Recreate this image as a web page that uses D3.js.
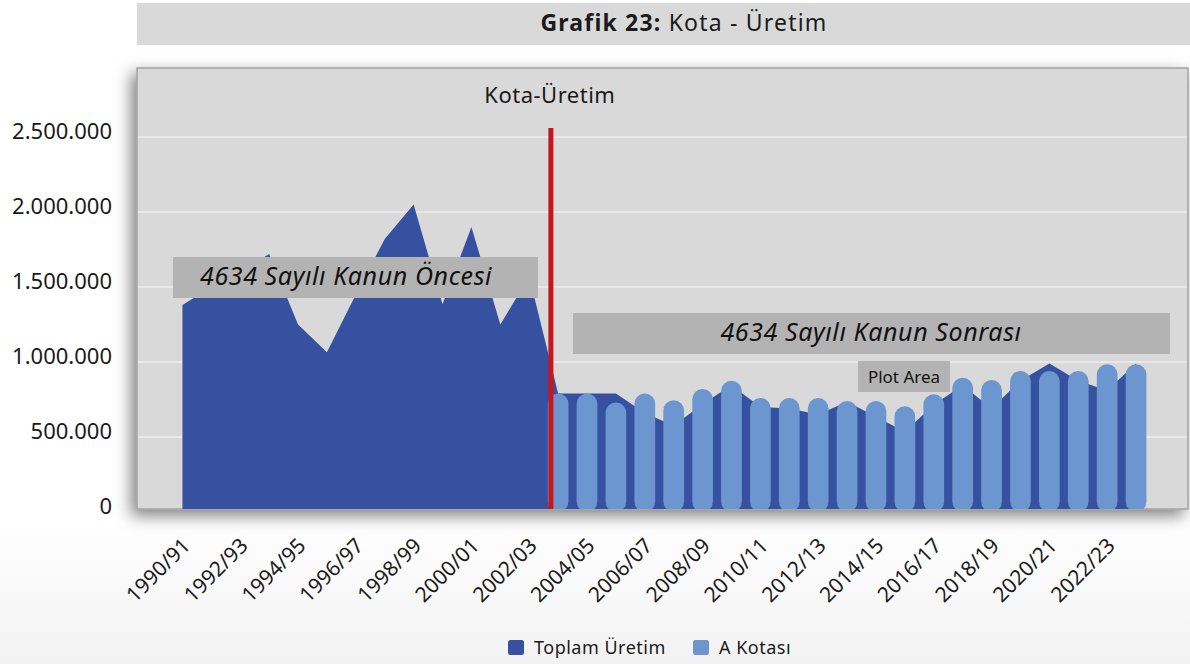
<!DOCTYPE html>
<html>
<head>
<meta charset="utf-8">
<script src="https://cdn.jsdelivr.net/npm/d3@7"></script>
<style>
body { margin: 0; background: #fff; }
svg { display: block; font-family: "Noto Sans", sans-serif; }
</style>
</head>
<body>
<svg id="chart" width="1190" height="664"></svg>
<script>
// categories (marketing years)
var years = ["1990/91", "1991/92", "1992/93", "1993/94", "1994/95", "1995/96", "1996/97", "1997/98",
    "1998/99", "1999/00", "2000/01", "2001/02", "2002/03", "2003/04", "2004/05", "2005/06",
    "2006/07", "2007/08", "2008/09", "2009/10", "2010/11", "2011/12", "2012/13", "2013/14",
    "2014/15", "2015/16", "2016/17", "2017/18", "2018/19", "2019/20", "2020/21", "2021/22",
    "2022/23", "2023/24"];

// Toplam Üretim (area)
var toplamUretim = [1380000, 1500000, 1600000, 1720000, 1250000, 1065000, 1450000, 1820000,
    2050000, 1385000, 1900000, 1250000, 1570000, 790000, 790000, 790000,
    660000, 575000, 720000, 845000, 700000, 690000, 650000, 735000,
    635000, 535000, 715000, 845000, 690000, 875000, 990000, 875000,
    810000, 990000];

// A Kotası (bars), only after the law
var aKotasi = [null, null, null, null, null, null, null, null,
    null, null, null, null, null, 790000, 790000, 730000,
    790000, 745000, 820000, 875000, 760000, 760000, 760000, 740000,
    740000, 705000, 785000, 895000, 880000, 940000, 940000, 940000,
    985000, 985000];

var yTicks = [0, 500000, 1000000, 1500000, 2000000, 2500000];
var seriesNames = ["Toplam Üretim", "A Kotası"];
var lawYear = "2003/04";

var dark = "#3651a0", light = "#6c96cf";

var svg = d3.select("#chart");
var plot = {left: 137, top: 68, right: 1188, bottom: 509};

var tr = d3.formatLocale({decimal: ",", thousands: ".", grouping: [3], currency: ["", " TL"]});
var fmt = tr.format(",d");

// scales
var x = d3.scaleBand().domain(years).range([168, 1150.5]);
var step = x.step();
function cx(d) { return x(d) + step / 2; }
var y = d3.scaleLinear().domain([0, 2500000]).range([512, 137]);

var defs = svg.append("defs");
var sh = defs.append("filter").attr("id", "shadow")
    .attr("x", "-10%").attr("y", "-10%").attr("width", "120%").attr("height", "125%");
sh.append("feDropShadow").attr("dx", -5).attr("dy", 6)
    .attr("stdDeviation", 8).attr("flood-color", "#000").attr("flood-opacity", 0.5);
defs.append("clipPath").attr("id", "plotclip").append("rect")
    .attr("x", plot.left).attr("y", plot.top)
    .attr("width", plot.right - plot.left).attr("height", plot.bottom - plot.top);
var bgGrad = defs.append("linearGradient").attr("id", "bggrad")
    .attr("x1", 0).attr("y1", 0).attr("x2", 0).attr("y2", 1);
bgGrad.append("stop").attr("offset", "0%").attr("stop-color", "#ffffff");
bgGrad.append("stop").attr("offset", "100%").attr("stop-color", "#f2f2f2");

// page background at bottom
svg.append("rect").attr("x", 0).attr("y", 520).attr("width", 1190).attr("height", 144)
    .attr("fill", "url(#bggrad)");

// title bar
svg.append("rect").attr("x", 137).attr("y", 3).attr("width", 1053).attr("height", 42)
    .attr("fill", "#d9d9d9");
var title = svg.append("text").attr("x", 684).attr("y", 31)
    .attr("text-anchor", "middle").attr("font-size", 23).attr("letter-spacing", 1.2)
    .attr("fill", "#1a1a1a");
title.append("tspan").attr("font-weight", "bold").text("Grafik 23:");
title.append("tspan").text(" Kota - Üretim");

// plot box
svg.append("rect")
    .attr("x", plot.left).attr("y", plot.top)
    .attr("width", plot.right - plot.left).attr("height", plot.bottom - plot.top)
    .attr("fill", "#d9d9d9").attr("stroke", "#a3a3a3").attr("stroke-width", 1.5)
    .attr("filter", "url(#shadow)");

// gridlines
svg.append("g").selectAll("line")
    .data(yTicks.filter(function(d) { return d > 0; }))
    .enter().append("line")
    .attr("x1", plot.left + 1).attr("x2", plot.right - 1)
    .attr("y1", function(d) { return y(d); })
    .attr("y2", function(d) { return y(d); })
    .attr("stroke", "#ececec").attr("stroke-width", 1.5);

// y labels
svg.append("g").selectAll("text")
    .data(yTicks)
    .enter().append("text")
    .attr("x", 112)
    .attr("y", function(d) { return y(d) - 6; })
    .attr("dy", "0.35em")
    .attr("text-anchor", "end")
    .attr("font-size", 22)
    .attr("fill", "#1a1a1a")
    .text(function(d) { return fmt(d); });

var inner = svg.append("g").attr("clip-path", "url(#plotclip)");

// Toplam Üretim area
var area = d3.area()
    .x(function(d, i) { return cx(years[i]); })
    .y0(y(0))
    .y1(function(d) { return y(d); });
inner.append("path")
    .datum(toplamUretim)
    .attr("d", area)
    .attr("fill", dark);

// A Kotası bars
var bw = step * 0.716;
inner.append("g").selectAll("rect")
    .data(years.map(function(d, i) { return {year: d, v: aKotasi[i]}; })
        .filter(function(d) { return d.v != null; }))
    .enter().append("rect")
    .attr("x", function(d) { return cx(d.year) - bw / 2; })
    .attr("y", function(d) { return y(d.v); })
    .attr("width", bw)
    .attr("height", function(d) { return y(0) - y(d.v); })
    .attr("rx", bw / 2)
    .attr("fill", light);

// red divider
var lawX = cx(lawYear) - step * 0.25;
svg.append("line")
    .attr("x1", lawX).attr("x2", lawX)
    .attr("y1", y(2560000)).attr("y2", plot.bottom)
    .attr("stroke", "#c8161d").attr("stroke-width", 5);
svg.append("text")
    .attr("x", lawX - 1).attr("y", 103)
    .attr("text-anchor", "middle").attr("font-size", 22).attr("letter-spacing", 0.5)
    .attr("fill", "#1a1a1a")
    .text("Kota-Üretim");

// annotation boxes
svg.append("rect").attr("x", 173).attr("y", 257).attr("width", 365).attr("height", 41)
    .attr("fill", "#b3b3b3");
svg.append("text").attr("x", 200).attr("y", 285)
    .attr("font-size", 25).attr("font-style", "italic").attr("letter-spacing", 0.6)
    .attr("fill", "#111")
    .text("4634 Sayılı Kanun Öncesi");

svg.append("rect").attr("x", 573).attr("y", 313).attr("width", 597).attr("height", 41)
    .attr("fill", "#b3b3b3");
svg.append("text").attr("x", 871).attr("y", 341)
    .attr("text-anchor", "middle")
    .attr("font-size", 25).attr("font-style", "italic").attr("letter-spacing", 0.6)
    .attr("fill", "#111")
    .text("4634 Sayılı Kanun Sonrası");

svg.append("rect").attr("x", 858).attr("y", 361).attr("width", 92).attr("height", 31)
    .attr("fill", "#b3b3b3");
svg.append("text").attr("x", 904).attr("y", 383)
    .attr("text-anchor", "middle").attr("font-size", 17)
    .attr("fill", "#111")
    .text("Plot Area");

// x labels, every second year
svg.append("g").selectAll("text")
    .data(years.filter(function(d, i) { return i % 2 === 0; }))
    .enter().append("text")
    .attr("transform", function(d) {
        return "translate(" + (cx(d) + 9) + ",547) rotate(-45)";
    })
    .attr("text-anchor", "end")
    .attr("font-size", 21)
    .attr("fill", "#1a1a1a")
    .text(function(d) { return d; });

// legend
var legend = svg.append("g").selectAll("g")
    .data(seriesNames)
    .enter().append("g")
    .attr("transform", function(d, i) { return "translate(" + (i === 0 ? 508 : 693) + ",640)"; });
legend.append("rect")
    .attr("width", 16).attr("height", 15).attr("rx", 2.5)
    .attr("fill", function(d, i) { return i === 0 ? dark : light; });
legend.append("text")
    .attr("x", 26).attr("y", 14)
    .attr("font-size", 18).attr("letter-spacing", 0.5)
    .attr("fill", "#1a1a1a")
    .text(function(d) { return d; });
</script>
</body>
</html>
